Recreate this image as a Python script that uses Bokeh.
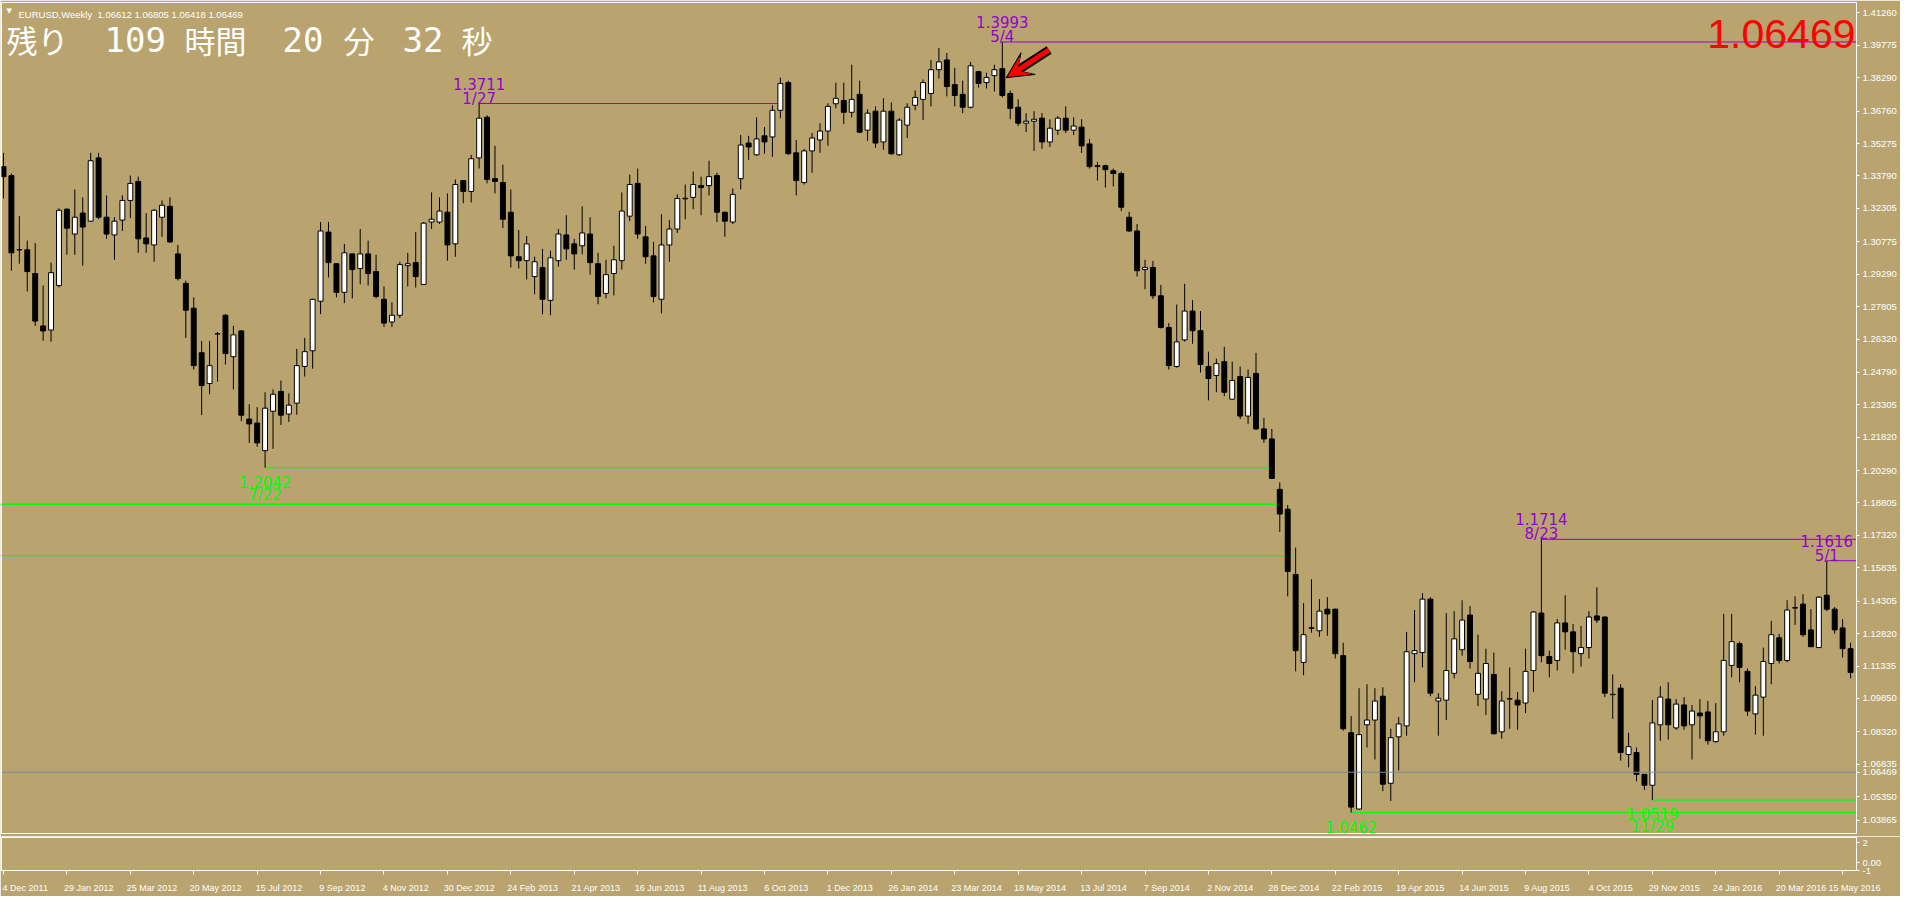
from bokeh.plotting import figure
from bokeh.layouts import column
from bokeh.models import (Range1d, FixedTicker, PrintfTickFormatter, Label, Span,
                          Arrow, VeeHead, ColumnDataSource)
from bokeh.core.properties import value
from bokeh.embed import file_html
from bokeh.resources import INLINE

BG = "#B9A470"
PURPLE = "#9400D3"
GREEN = "#00FF00"
BIDCOL = "#778899"

# ---------------- weekly EURUSD candles (4 Dec 2011 .. 22 May 2016) -------------
opens = [
 1.3422,1.3381,1.3040,1.3041,1.2932,1.2692,1.2673,1.2877,1.3227,1.3113,
 1.3209,1.3172,1.3462,1.3190,1.3109,1.3177,1.3267,1.3354,1.3095,1.3063,
 1.3190,1.3240,1.3022,1.2887,1.2773,1.2569,1.2428,1.2655,1.2741,1.2551,
 1.2669,1.2265,1.2247,1.2120,1.2301,1.2392,1.2288,1.2338,1.2506,1.2578,
 1.2805,1.3122,1.2977,1.2846,1.3022,1.2955,1.3022,1.2941,1.2814,1.2710,
 1.2741,1.2968,1.2982,1.2882,1.3168,1.3168,1.3213,1.3068,1.3358,1.3308,
 1.3462,1.3648,1.3367,1.3349,1.3213,1.3009,1.2991,1.2918,1.2959,1.2809,
 1.2991,1.3109,1.3068,1.3059,1.3113,1.2977,1.2841,1.2932,1.2991,1.3195,
 1.3345,1.3100,1.3013,1.2814,1.3063,1.3136,1.3274,1.3281,1.3335,1.3335,
 1.3381,1.3213,1.3168,1.3367,1.3530,1.3476,1.3563,1.3558,1.3680,1.3807,
 1.3485,1.3349,1.3494,1.3544,1.3585,1.3710,1.3725,1.3671,1.3753,1.3589,
 1.3676,1.3535,1.3676,1.3476,1.3612,1.3703,1.3730,1.3757,1.3866,1.3911,
 1.3798,1.3753,1.3694,1.3857,1.3807,1.3839,1.3871,1.3757,1.3694,1.3621,
 1.3630,1.3644,1.3535,1.3589,1.3644,1.3589,1.3603,1.3526,1.3426,1.3426,
 1.3403,1.3390,1.3190,1.3127,1.2950,1.2960,1.2830,1.2685,1.2506,1.2628,
 1.2760,1.2670,1.2506,1.2465,1.2528,1.2356,1.2460,1.2279,1.2474,1.2220,
 1.2174,1.1943,1.1852,1.1553,1.1150,1.1306,1.1295,1.1394,1.1394,1.1181,
 1.0828,1.0478,1.0864,1.0886,1.0995,1.0596,1.0809,1.0859,1.1190,1.1195,
 1.1440,1.0973,1.0977,1.1100,1.1208,1.1367,1.1004,1.0982,1.1095,1.0832,
 1.0982,1.0977,1.0964,1.1113,1.1376,1.1177,1.1159,1.1331,1.1290,1.1190,
 1.1218,1.1363,1.1358,1.1004,1.1032,1.0728,1.0737,1.0637,1.0587,1.0864,
 1.0982,1.0850,1.0955,1.0864,1.0918,1.0923,1.0787,1.0832,1.1136,1.1236,
 1.1109,1.0914,1.0991,1.1145,1.1263,1.1159,1.1399,1.1417,1.1299,1.1218,
 1.1458,1.1394,1.1308,1.1213]
highs = [
 1.3485,1.3390,1.3195,1.3083,1.3072,1.2877,1.2982,1.3231,1.3230,1.3317,
 1.3281,1.3485,1.3485,1.3290,1.3190,1.3290,1.3381,1.3376,1.3209,1.3227,
 1.3267,1.3281,1.3063,1.2900,1.2823,1.2623,1.2623,1.2664,1.2746,1.2692,
 1.2672,1.2333,1.2320,1.2388,1.2401,1.2442,1.2383,1.2587,1.2637,1.2816,
 1.3168,1.3168,1.2979,1.3068,1.3024,1.3136,1.3083,1.3018,1.2873,1.2800,
 1.2986,1.3027,1.3122,1.3168,1.3304,1.3281,1.3299,1.3363,1.3360,1.3476,
 1.3711,1.3657,1.3517,1.3431,1.3317,1.3131,1.3104,1.3009,1.3045,1.3036,
 1.3136,1.3199,1.3091,1.3240,1.3190,1.3027,1.2995,1.3059,1.3304,1.3385,
 1.3413,1.3150,1.3077,1.3204,1.3177,1.3295,1.3340,1.3399,1.3376,1.3449,
 1.3394,1.3215,1.3322,1.3567,1.3563,1.3648,1.3603,1.3703,1.3830,1.3816,
 1.3544,1.3503,1.3576,1.3621,1.3712,1.3807,1.3807,1.3889,1.3816,1.3685,
 1.3698,1.3735,1.3716,1.3644,1.3712,1.3771,1.3821,1.3911,1.3966,1.3943,
 1.3875,1.3816,1.3902,1.3861,1.3852,1.3889,1.3993,1.3771,1.3730,1.3667,
 1.3676,1.3667,1.3639,1.3653,1.3698,1.3648,1.3639,1.3549,1.3444,1.3431,
 1.3413,1.3399,1.3215,1.3159,1.2995,1.2990,1.2880,1.2705,1.2790,1.2885,
 1.2810,1.2760,1.2574,1.2542,1.2596,1.2528,1.2506,1.2492,1.2569,1.2270,
 1.2220,1.1975,1.1871,1.1676,1.1422,1.1531,1.1440,1.1449,1.1396,1.1240,
 1.0905,1.1032,1.1050,1.1032,1.1036,1.0846,1.0900,1.1290,1.1390,1.1467,
 1.1449,1.1009,1.1376,1.1385,1.1435,1.1408,1.1277,1.1213,1.1195,1.1018,
 1.1127,1.1014,1.1213,1.1385,1.1714,1.1204,1.1349,1.1458,1.1326,1.1317,
 1.1385,1.1494,1.1360,1.1095,1.1050,1.0828,1.0760,1.0639,1.0977,1.1041,
 1.1059,1.0982,1.0991,1.0955,1.0982,1.0973,1.0964,1.1372,1.1372,1.1245,
 1.1122,1.1041,1.1218,1.1340,1.1281,1.1435,1.1453,1.1462,1.1394,1.1453,
 1.1616,1.1404,1.1349,1.1240]
lows = [
 1.3276,1.2945,1.2977,1.2850,1.2692,1.2624,1.2620,1.2868,1.3018,1.3018,
 1.2968,1.3168,1.3181,1.3091,1.2995,1.3127,1.3186,1.3027,1.3027,1.2986,
 1.3100,1.3072,1.2900,1.2637,1.2492,1.2283,1.2379,1.2437,1.2515,1.2401,
 1.2256,1.2156,1.2138,1.2042,1.2129,1.2238,1.2252,1.2285,1.2460,1.2496,
 1.2746,1.2914,1.2823,1.2796,1.2818,1.2882,1.2877,1.2818,1.2687,1.2687,
 1.2728,1.2873,1.2868,1.2880,1.3136,1.3159,1.2991,1.3009,1.3254,1.3258,
 1.3413,1.3345,1.3299,1.3140,1.2959,1.2955,1.2905,1.2837,1.2746,1.2741,
 1.2964,1.2995,1.2950,1.3020,1.2927,1.2791,1.2818,1.2832,1.2950,1.3172,
 1.3091,1.2977,1.2800,1.2750,1.2986,1.3118,1.3181,1.3227,1.3199,1.3290,
 1.3168,1.3100,1.3159,1.3317,1.3453,1.3472,1.3481,1.3467,1.3644,1.3476,
 1.3290,1.3340,1.3394,1.3485,1.3517,1.3689,1.3617,1.3648,1.3576,1.3540,
 1.3508,1.3499,1.3476,1.3472,1.3553,1.3680,1.3635,1.3698,1.3825,1.3744,
 1.3698,1.3667,1.3689,1.3784,1.3780,1.3766,1.3739,1.3639,1.3608,1.3580,
 1.3494,1.3503,1.3512,1.3567,1.3576,1.3567,1.3485,1.3413,1.3358,1.3326,
 1.3331,1.3218,1.3122,1.2918,1.2860,1.2815,1.2680,1.2492,1.2500,1.2620,
 1.2610,1.2478,1.2351,1.2388,1.2370,1.2354,1.2265,1.2243,1.2215,1.2156,
 1.1990,1.1748,1.1453,1.1109,1.1091,1.1286,1.1267,1.1272,1.1168,1.0837,
 1.0462,1.0474,1.0760,1.0705,1.0560,1.0515,1.0655,1.0814,1.1059,1.1127,
 1.0995,1.0814,1.0886,1.1077,1.1181,1.1122,1.0950,1.0909,1.0820,1.0800,
 1.0846,1.0841,1.0918,1.1014,1.1150,1.1082,1.1113,1.1208,1.1100,1.1131,
 1.1168,1.1331,1.0991,1.0891,1.0700,1.0669,1.0605,1.0565,1.0519,1.0791,
 1.0796,1.0841,1.0841,1.0705,1.0800,1.0773,1.0782,1.0814,1.1082,1.1059,
 1.0905,1.0819,1.0814,1.1050,1.1145,1.1150,1.1322,1.1267,1.1220,1.1216,
 1.1385,1.1281,1.1172,1.1077]
closes = [
 1.3376,1.3027,1.3042,1.2941,1.2714,1.2669,1.2936,1.3222,1.3140,1.3190,
 1.3145,1.3449,1.3190,1.3113,1.3172,1.3267,1.3345,1.3091,1.3068,1.3222,
 1.3245,1.3077,1.2909,1.2764,1.2510,1.2419,1.2510,1.2656,1.2565,1.2651,
 1.2283,1.2243,1.2156,1.2315,1.2379,1.2283,1.2329,1.2510,1.2574,1.2814,
 1.3127,1.2982,1.2846,1.3027,1.2950,1.3022,1.2932,1.2827,1.2705,1.2741,
 1.2973,1.2977,1.2918,1.3163,1.3181,1.3218,1.3063,1.3340,1.3308,1.3458,
 1.3644,1.3363,1.3354,1.3181,1.3013,1.2991,1.3068,1.2986,1.2814,1.3004,
 1.3113,1.3045,1.3022,1.3118,1.2982,1.2827,1.2927,1.2995,1.3218,1.3340,
 1.3113,1.3009,1.2827,1.3063,1.3136,1.3276,1.3277,1.3340,1.3326,1.3376,
 1.3213,1.3172,1.3295,1.3521,1.3512,1.3549,1.3535,1.3680,1.3803,1.3481,
 1.3358,1.3494,1.3553,1.3585,1.3698,1.3735,1.3671,1.3730,1.3580,1.3667,
 1.3530,1.3676,1.3481,1.3635,1.3694,1.3739,1.3807,1.3866,1.3902,1.3789,
 1.3748,1.3694,1.3884,1.3803,1.3830,1.3866,1.3748,1.3689,1.3621,1.3630,
 1.3639,1.3535,1.3598,1.3644,1.3589,1.3608,1.3517,1.3422,1.3422,1.3408,
 1.3390,1.3236,1.3127,1.2945,1.2960,1.2830,1.2685,1.2510,1.2619,1.2760,
 1.2670,1.2515,1.2451,1.2519,1.2388,1.2442,1.2279,1.2456,1.2220,1.2174,
 1.1993,1.1830,1.1567,1.1204,1.1277,1.1309,1.1385,1.1372,1.1190,1.0846,
 1.0487,1.0819,1.0886,1.0973,1.0592,1.0805,1.0868,1.1199,1.1204,1.1440,
 1.1009,1.0986,1.1113,1.1258,1.1344,1.1154,1.1100,1.1145,1.0823,1.0973,
 1.0984,1.0955,1.1109,1.1381,1.1181,1.1145,1.1331,1.1290,1.1199,1.1218,
 1.1358,1.1344,1.1009,1.1002,1.0737,1.0764,1.0637,1.0587,1.0873,1.0991,
 1.0864,1.0959,1.0859,1.0927,1.0905,1.0791,1.0832,1.1159,1.1245,1.1127,
 1.0927,1.1000,1.1154,1.1277,1.1159,1.1390,1.1401,1.1277,1.1222,1.1449,
 1.1394,1.1299,1.1213,1.1104]

# date axis labels (every 8th weekly bar)
date_labels = ["4 Dec 2011", "29 Jan 2012", "25 Mar 2012", "20 May 2012", "15 Jul 2012",
               "9 Sep 2012", "4 Nov 2012", "30 Dec 2012", "24 Feb 2013", "21 Apr 2013",
               "16 Jun 2013", "11 Aug 2013", "6 Oct 2013", "1 Dec 2013", "26 Jan 2014",
               "23 Mar 2014", "18 May 2014", "13 Jul 2014", "7 Sep 2014", "2 Nov 2014",
               "28 Dec 2014", "22 Feb 2015", "19 Apr 2015", "14 Jun 2015", "9 Aug 2015",
               "4 Oct 2015", "29 Nov 2015", "24 Jan 2016", "20 Mar 2016", "15 May 2016"]
date_bar_idx = list(range(0, 233, 8))

# price-axis labels
price_labels = [1.41260, 1.39775, 1.38290, 1.36760, 1.35275, 1.33790, 1.32305, 1.30775,
                1.29290, 1.27805, 1.26320, 1.24790, 1.23305, 1.21820, 1.20290, 1.18805,
                1.17320, 1.15835, 1.14305, 1.12820, 1.11335, 1.09850, 1.08320, 1.06835,
                1.05350, 1.03865]

# indicator sub-window labels
sub_labels = [2, 0, -1]

# marked swing highs / lows
high_idx = [60, 126, 194, 230]
high_val = [1.3711, 1.3993, 1.1714, 1.1616]
high_date = ["1/27", "5/4", "8/23", "5/1"]
high_end = [98, 234, 234, 234]

low_idx = [33, 170, 208]
low_val = [1.2042, 1.0462, 1.0519]
low_date = ["7/22", "", "11/29"]     # the 1.0462 date falls below the window
low_end = [160, 234, 234]

# older support lines coming from the left edge
old_low_val = [1.1875, 1.1639]
old_low_end = [161, 162]

BID = 1.06469
HEADER = "EURUSD,Weekly"
HEADER_OHLC = "1.06612 1.06805 1.06418 1.06469"
countdown = [("残り", "cjk"), ("109", "num"), ("時間", "cjk"), ("20", "num"),
             ("分", "cjk"), ("32", "num"), ("秒", "cjk")]
countdown_x = [6, 104, 184, 282, 343, 402, 461]

# ---------------------------------------------------------------------------
W = 1900
RB = 44            # right border for price axis
xr = Range1d(-0.25, 233.75)
y_bottom, y_top = 1.0366, 1.4174
yr = Range1d(y_bottom, y_top)

main = figure(width=W, height=836, x_range=xr, y_range=yr, output_backend="svg",
              toolbar_location=None, x_axis_location=None, y_axis_location="right",
              min_border_left=1, min_border_right=RB, min_border_top=2, min_border_bottom=3,
              background_fill_color=BG, border_fill_color=BG,
              outline_line_color="white", outline_line_width=1)
main.grid.visible = False

idx = list(range(len(opens)))
src = ColumnDataSource(dict(
    x=idx, h=highs, l=lows,
    top=[max(o, c) for o, c in zip(opens, closes)],
    bottom=[min(o, c) for o, c in zip(opens, closes)],
    fill=["white" if c >= o else "black" for o, c in zip(opens, closes)]))

# level lines
main.segment(x0=high_idx, y0=high_val, x1=high_end, y1=high_val, line_color=PURPLE, line_width=1)
main.segment(x0=low_idx, y0=low_val, x1=low_end, y1=low_val, line_color=GREEN, line_width=1)
main.segment(x0=[-1] * len(old_low_val), y0=old_low_val, x1=old_low_end, y1=old_low_val,
             line_color=GREEN, line_width=[1.6, 1])
main.add_layout(Span(location=BID, dimension="width", line_color=BIDCOL, line_width=1))

# candles
main.segment(x0="x", y0="l", x1="x", y1="h", source=src, line_color="black", line_width=1)
main.vbar(x="x", width=0.62, top="top", bottom="bottom", source=src,
          fill_color="fill", line_color="black", line_width=1)

# level labels
lab_font = value("DejaVu Sans")
main.text(x=high_idx, y=high_val, text=high_date, text_font=lab_font, text_font_size="15px",
          text_color=PURPLE, text_align="center", text_baseline="alphabetic", y_offset=-5)
main.text(x=high_idx, y=high_val, text=[f"{v:.4f}" for v in high_val], text_font=lab_font,
          text_font_size="15px", text_color=PURPLE, text_align="center",
          text_baseline="alphabetic", y_offset=-20)
main.text(x=low_idx, y=low_val, text=[f"{v:.4f}" for v in low_val], text_font=lab_font,
          text_font_size="15px", text_color=GREEN, text_align="center",
          text_baseline="alphabetic", y_offset=14)
main.text(x=low_idx, y=low_val, text=low_date, text_font=lab_font, text_font_size="15px",
          text_color=GREEN, text_align="center", text_baseline="alphabetic", y_offset=27)

# arrow pointing at the top candle
pk = high_idx[1]
tip_x = pk + 0.5
tip_y = (opens[pk] + closes[pk]) / 2 + 0.0020
tail_x, tail_y = tip_x + 5.4, tip_y + 0.0127
main.add_layout(Arrow(x_start=tail_x, y_start=tail_y, x_end=tip_x, y_end=tip_y,
                      line_color="black", line_width=9,
                      end=VeeHead(size=26, fill_color="black", line_color="black")))
main.add_layout(Arrow(x_start=tail_x, y_start=tail_y, x_end=tip_x + 0.25, y_end=tip_y + 0.0006,
                      line_color="red", line_width=5,
                      end=VeeHead(size=20, fill_color="red", line_color="red")))

# price axis (lowest label is pushed up to stay inside, as in the terminal) + bid label
pos = [max(v, y_bottom + 0.0060) for v in price_labels] + [BID]
texts = [f"{v:.5f}" for v in price_labels] + [f"{BID:.5f}"]
ya = main.yaxis[0]
ya.ticker = FixedTicker(ticks=pos)
ya.formatter = PrintfTickFormatter(format="%.5f")
ya.major_label_overrides = {p: t for p, t in zip(pos, texts)}
ya.axis_line_color = "white"
ya.major_tick_line_color = "white"
ya.major_tick_out = 3
ya.major_tick_in = 0
ya.minor_tick_line_color = None
ya.major_label_standoff = 3
ya.major_label_text_color = "white"
ya.major_label_text_font = "Liberation Sans"
ya.major_label_text_font_size = "9.5px"

# header texts
main.add_layout(Label(x=6, y=10, x_units="canvas", y_units="canvas", text="▼",
                      text_font="DejaVu Sans", text_font_size="7px", text_color="white",
                      text_baseline="middle"))
main.add_layout(Label(x=18, y=14, x_units="canvas", y_units="canvas", text=HEADER,
                      text_font="Liberation Sans", text_font_size="9.5px", text_color="white",
                      text_baseline="alphabetic"))
main.add_layout(Label(x=97, y=14, x_units="canvas", y_units="canvas", text=HEADER_OHLC,
                      text_font="Liberation Sans", text_font_size="9.5px", text_color="white",
                      text_baseline="alphabetic"))
for (tok, kind), xx in zip(countdown, countdown_x):
    if kind == "cjk":
        main.add_layout(Label(x=xx, y=39, x_units="canvas", y_units="canvas", text=tok,
                              text_font="Noto Sans CJK JP", text_font_size="31px",
                              text_color="white", text_baseline="alphabetic"))
    else:
        main.add_layout(Label(x=xx, y=39, x_units="canvas", y_units="canvas", text=tok,
                              text_font="DejaVu Sans Mono", text_font_size="34px",
                              text_color="white", text_baseline="alphabetic"))

main.add_layout(Label(x=W - RB - 1, y=33, x_units="canvas", y_units="canvas",
                      text=f"{BID:.5f}", text_font="Liberation Sans", text_font_size="41px",
                      text_color="red", text_align="right", text_baseline="alphabetic"))

# ---------------- sub window + date axis ----------------
sub_bottom, sub_top = -0.8, 2.5
sub = figure(width=W, height=60, x_range=xr, y_range=Range1d(sub_bottom, sub_top),
             output_backend="svg", toolbar_location=None, y_axis_location="right",
             min_border_left=1, min_border_right=RB, min_border_top=1, min_border_bottom=26,
             background_fill_color=BG, border_fill_color=BG,
             outline_line_color="white", outline_line_width=1)
sub.grid.visible = False
spos = [max(v, sub_bottom) for v in sub_labels]
sy = sub.yaxis[0]
sy.ticker = FixedTicker(ticks=spos)
sy.major_label_overrides = {p: ("0.00" if v == 0 else str(v)) for p, v in zip(spos, sub_labels)}
sy.axis_line_color = "white"
sy.major_tick_line_color = "white"
sy.major_tick_out = 3
sy.major_tick_in = 0
sy.major_label_standoff = 3
sy.major_label_text_color = "white"
sy.major_label_text_font = "Liberation Sans"
sy.major_label_text_font_size = "9.5px"

label_pos = [min(i + 2.75, 233.5) for i in date_bar_idx]
sx = sub.xaxis[0]
sx.ticker = FixedTicker(ticks=label_pos, minor_ticks=date_bar_idx)
sx.major_label_overrides = {p: d for p, d in zip(label_pos, date_labels)}
sx.axis_line_color = "white"
sx.major_tick_out = 0
sx.major_tick_in = 0
sx.minor_tick_out = 4
sx.minor_tick_in = 0
sx.minor_tick_line_color = "white"
sx.major_label_standoff = 8
sx.major_label_text_color = "white"
sx.major_label_text_font = "Liberation Sans"
sx.major_label_text_font_size = "9px"

layout = column(main, sub, spacing=0)
open("out.html", "w").write(file_html(layout, INLINE))
